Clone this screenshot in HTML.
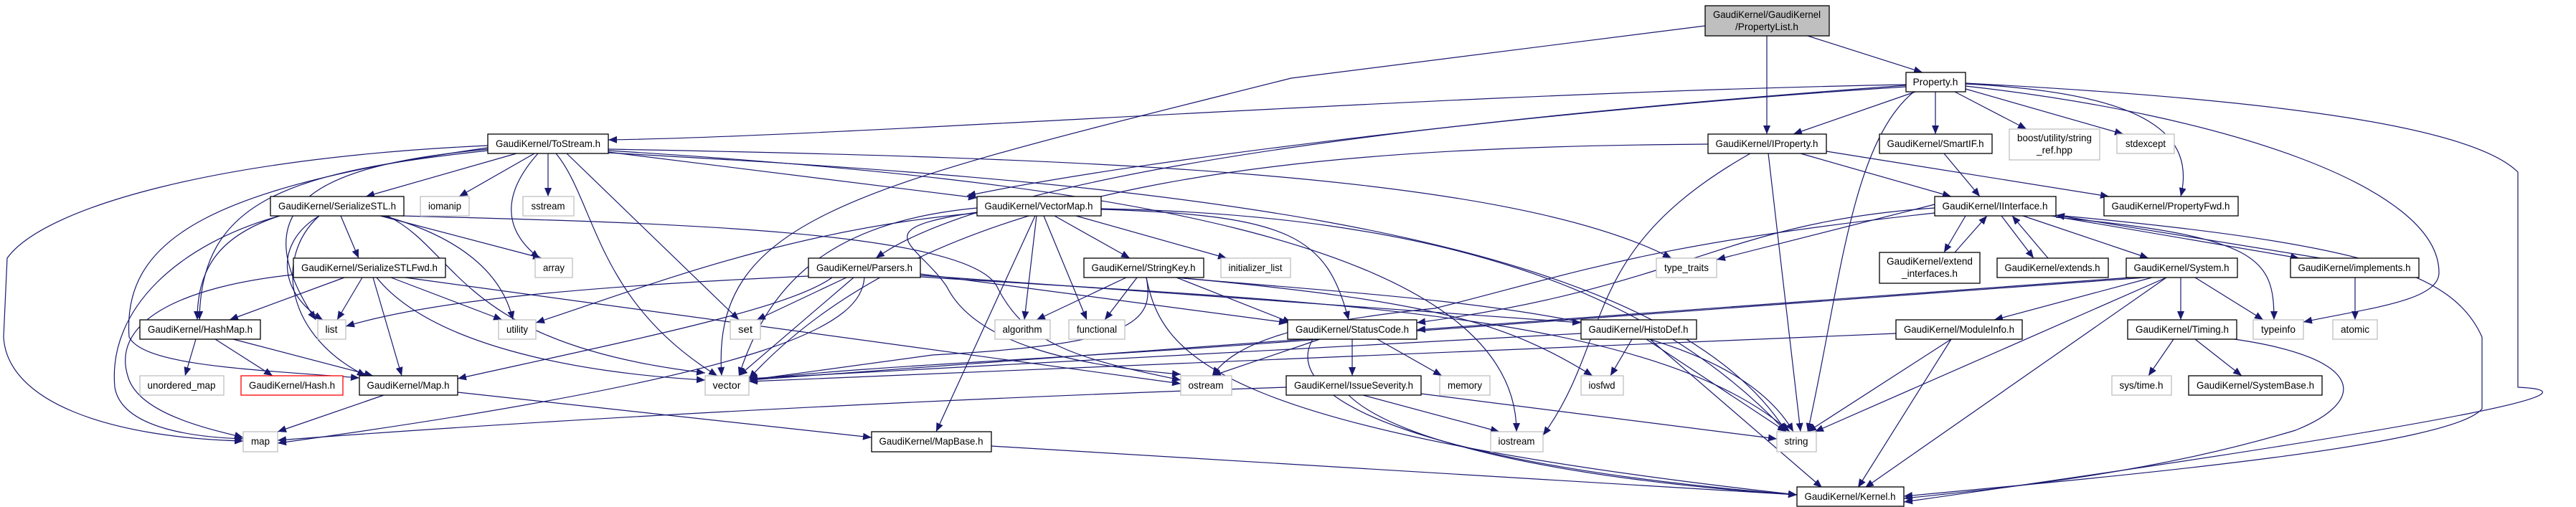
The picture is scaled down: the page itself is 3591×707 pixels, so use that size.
<!DOCTYPE html>
<html><head><meta charset="utf-8"><style>
html,body{margin:0;padding:0;background:#fff;}
svg{display:block;}
text{font-family:"Liberation Sans",sans-serif;font-size:14px;fill:#000;}
.n rect{fill:#fff;stroke:#000;stroke-width:1.3;}
.g rect{fill:#fff;stroke:#bfbfbf;stroke-width:1.3;}
.e path{fill:none;stroke:#191970;stroke-width:1.2;}
</style></head><body>
<svg width="3591" height="707" viewBox="0 0 3591 707" xmlns="http://www.w3.org/2000/svg">
<defs><marker id="a" markerUnits="userSpaceOnUse" markerWidth="13" markerHeight="10" refX="12" refY="5" orient="auto"><path d="M0,0 L12,5 L0,10 z" fill="#191970"/></marker></defs>
<g class="e" marker-end="url(#a)">
<path d="M2520 50 L2680 101"/>
<path d="M2463 50 L2463 187"/>
<path d="M2377 36 L1800 109 C1200 260 990 300 1006 524"/>
<path d="M2657 118 C2000 130 1200 190 848 195"/>
<path d="M2670 128 L2500 187"/>
<path d="M2698 128 L2698 187"/>
<path d="M2725 128 L2825 180"/>
<path d="M2740 124 L2960 187"/>
<path d="M2740 117 C3000 130 3060 190 3040 274"/>
<path d="M2668 128 C2580 200 2565 400 2520 602"/>
<path d="M2740 120 C3100 160 3400 260 3400 380 C3400 420 3300 430 3211 449"/>
<path d="M2740 116 C3200 140 3450 180 3510 240 L3510 540 C3620 545 3500 580 2654 700"/>
<path d="M2657 119 C2100 160 1400 230 1221 360"/>
<path d="M2657 121 C2200 150 1600 220 1348 273"/>
<path d="M720 214 L510 274"/>
<path d="M745 214 L640 274"/>
<path d="M764 214 L764 274"/>
<path d="M750 214 C700 270 700 320 752 360"/>
<path d="M848 212 L1362 276"/>
<path d="M680 210 C400 240 280 280 278 446"/>
<path d="M680 208 C450 230 330 280 440 446"/>
<path d="M680 203 C300 220 60 290 10 360 L5 470 C10 560 150 610 339 615"/>
<path d="M680 206 C300 260 170 330 180 470 C200 510 350 515 501 527"/>
<path d="M790 214 L1030 446"/>
<path d="M848 213 C1500 250 2300 300 2490 602"/>
<path d="M848 210 C1500 250 2114 330 2114 602"/>
<path d="M848 208 C1500 220 2100 240 2330 360"/>
<path d="M775 214 C830 280 830 420 1000 524"/>
<path d="M475 301 L500 360"/>
<path d="M530 301 L755 360"/>
<path d="M535 301 C640 330 700 380 715 446"/>
<path d="M445 301 C380 340 390 410 450 446"/>
<path d="M390 301 C300 330 275 380 275 446"/>
<path d="M445 301 C380 360 400 470 510 524"/>
<path d="M390 301 C250 340 150 430 160 540 C170 600 280 610 339 612"/>
<path d="M540 301 C640 350 640 480 983 520"/>
<path d="M560 301 C900 310 1350 320 1390 400 C1430 480 1500 500 1646 530"/>
<path d="M480 387 L320 446"/>
<path d="M505 387 L470 446"/>
<path d="M545 387 L700 446"/>
<path d="M520 387 L560 524"/>
<path d="M409 383 C250 400 150 450 180 530 C200 580 300 600 339 610"/>
<path d="M525 387 C600 480 800 520 983 530"/>
<path d="M565 387 L1646 535"/>
<path d="M273 473 L258 524"/>
<path d="M300 473 L380 524"/>
<path d="M325 473 L520 524"/>
<path d="M535 551 L387 602"/>
<path d="M638 547 L1215 610"/>
<path d="M1470 301 L1575 360"/>
<path d="M1500 301 L1710 360"/>
<path d="M1455 301 L1515 446"/>
<path d="M1445 301 L1428 446"/>
<path d="M1443 301 L1305 602"/>
<path d="M1362 290 C1150 310 1070 400 1030 524"/>
<path d="M1362 297 C1100 320 900 400 747 450"/>
<path d="M1362 296 C1200 320 1280 340 1320 400 C1360 480 1500 510 1646 522"/>
<path d="M1535 292 C1800 300 1850 330 1880 446"/>
<path d="M1535 291 C2000 300 2300 400 2490 602"/>
<path d="M1180 387 L1055 446"/>
<path d="M1190 387 L1030 524"/>
<path d="M1127 385 C800 400 600 420 482 455"/>
<path d="M1205 387 C1200 450 1100 520 387 618"/>
<path d="M1160 387 C1100 430 900 470 638 528"/>
<path d="M1283 382 L1795 450"/>
<path d="M1283 384 L2204 450"/>
<path d="M1283 386 C1800 420 2300 430 2495 602"/>
<path d="M1570 387 L1445 446"/>
<path d="M1585 387 L1540 446"/>
<path d="M1598 387 C1610 450 1580 480 1300 495 L1044 530"/>
<path d="M1640 387 L1800 450"/>
<path d="M1640 387 C2000 420 2400 430 2500 602"/>
<path d="M1598 387 C1620 500 1700 600 2505 690"/>
<path d="M1640 387 C2000 420 2100 450 2220 524"/>
<path d="M1840 473 L1690 524"/>
<path d="M1885 473 L1885 524"/>
<path d="M1920 473 L2010 524"/>
<path d="M1830 473 C1780 560 2000 650 2505 690"/>
<path d="M1840 473 C1500 500 1200 510 1044 530"/>
<path d="M1900 551 L2090 602"/>
<path d="M1981 549 L2477 612"/>
<path d="M1880 551 C1950 620 2200 670 2505 690"/>
<path d="M1793 540 C1200 560 700 590 387 614"/>
<path d="M2275 473 L2245 524"/>
<path d="M2295 473 L2490 602"/>
<path d="M2300 473 L2540 680"/>
<path d="M2204 465 L1044 528"/>
<path d="M1382 622 L2505 690"/>
<path d="M2510 214 L2720 274"/>
<path d="M2546 211 L2940 274"/>
<path d="M2465 214 L2510 602"/>
<path d="M2381 201 C1800 205 1300 250 1044 528"/>
<path d="M2440 214 C2200 350 2250 470 2151 607"/>
<path d="M2710 214 L2760 274"/>
<path d="M2697 285 L2393 362"/>
<path d="M2740 301 L2710 352"/>
<path d="M2725 352 L2770 301"/>
<path d="M2790 301 L2835 360"/>
<path d="M2855 360 L2805 301"/>
<path d="M2820 301 L2995 360"/>
<path d="M2860 301 L3205 360"/>
<path d="M3235 360 L2866 300"/>
<path d="M2866 303 C3150 330 3170 360 3170 446"/>
<path d="M2866 300 C3300 340 3420 380 3460 470 L3460 570 C3420 620 3000 660 2654 692"/>
<path d="M2697 297 C2300 340 2200 380 2000 430 C1800 450 1720 480 1690 524"/>
<path d="M2697 290 C2400 310 2350 400 1975 450"/>
<path d="M3283 387 L3283 446"/>
<path d="M3000 387 L2780 446"/>
<path d="M3040 387 L3040 446"/>
<path d="M3060 387 L3155 446"/>
<path d="M3020 387 L2530 602"/>
<path d="M3020 387 L2600 680"/>
<path d="M2990 387 L1044 530"/>
<path d="M2970 387 L1975 460"/>
<path d="M2720 473 L2520 602"/>
<path d="M2720 473 L2590 680"/>
<path d="M2643 465 L1044 532"/>
<path d="M3030 473 L2995 524"/>
<path d="M3060 473 L3125 524"/>
<path d="M3115 473 C3300 500 3300 560 3200 600 C3000 660 2800 680 2654 695"/>
</g>
<g>
<rect x="2377" y="8" width="173" height="42" fill="#bfbfbf" stroke="#000" stroke-width="1.3"/>
<text x="2463" y="25" text-anchor="middle" textLength="150" lengthAdjust="spacingAndGlyphs">GaudiKernel/GaudiKernel</text>
<text x="2463" y="42" text-anchor="middle" textLength="88" lengthAdjust="spacingAndGlyphs">/PropertyList.h</text>
</g>
<g class="n">
<rect x="2657" y="101" width="83" height="27"/><text x="2698" y="119" text-anchor="middle" textLength="63" lengthAdjust="spacingAndGlyphs">Property.h</text>
<rect x="680" y="187" width="168" height="27"/><text x="764" y="205" text-anchor="middle" textLength="146" lengthAdjust="spacingAndGlyphs">GaudiKernel/ToStream.h</text>
<rect x="2381" y="187" width="165" height="27"/><text x="2463" y="205" text-anchor="middle" textLength="143" lengthAdjust="spacingAndGlyphs">GaudiKernel/IProperty.h</text>
<rect x="2620" y="187" width="157" height="27"/><text x="2698" y="205" text-anchor="middle" textLength="135" lengthAdjust="spacingAndGlyphs">GaudiKernel/SmartIF.h</text>
<rect x="377" y="274" width="186" height="27"/><text x="470" y="292" text-anchor="middle" textLength="164" lengthAdjust="spacingAndGlyphs">GaudiKernel/SerializeSTL.h</text>
<rect x="1362" y="274" width="173" height="27"/><text x="1448" y="292" text-anchor="middle" textLength="151" lengthAdjust="spacingAndGlyphs">GaudiKernel/VectorMap.h</text>
<rect x="2697" y="274" width="169" height="27"/><text x="2781" y="292" text-anchor="middle" textLength="147" lengthAdjust="spacingAndGlyphs">GaudiKernel/IInterface.h</text>
<rect x="2933" y="274" width="187" height="27"/><text x="3026" y="292" text-anchor="middle" textLength="165" lengthAdjust="spacingAndGlyphs">GaudiKernel/PropertyFwd.h</text>
<rect x="409" y="360" width="212" height="27"/><text x="515" y="378" text-anchor="middle" textLength="190" lengthAdjust="spacingAndGlyphs">GaudiKernel/SerializeSTLFwd.h</text>
<rect x="1127" y="360" width="156" height="27"/><text x="1205" y="378" text-anchor="middle" textLength="134" lengthAdjust="spacingAndGlyphs">GaudiKernel/Parsers.h</text>
<rect x="1511" y="360" width="167" height="27"/><text x="1594" y="378" text-anchor="middle" textLength="145" lengthAdjust="spacingAndGlyphs">GaudiKernel/StringKey.h</text>
<rect x="2620" y="352" width="140" height="43"/><text x="2690" y="369" text-anchor="middle" textLength="120" lengthAdjust="spacingAndGlyphs">GaudiKernel/extend</text><text x="2690" y="386" text-anchor="middle" textLength="78" lengthAdjust="spacingAndGlyphs">_interfaces.h</text>
<rect x="2784" y="360" width="155" height="27"/><text x="2861" y="378" text-anchor="middle" textLength="133" lengthAdjust="spacingAndGlyphs">GaudiKernel/extends.h</text>
<rect x="2964" y="360" width="155" height="27"/><text x="3041" y="378" text-anchor="middle" textLength="133" lengthAdjust="spacingAndGlyphs">GaudiKernel/System.h</text>
<rect x="3193" y="360" width="179" height="27"/><text x="3282" y="378" text-anchor="middle" textLength="157" lengthAdjust="spacingAndGlyphs">GaudiKernel/implements.h</text>
<rect x="195" y="446" width="168" height="27"/><text x="279" y="464" text-anchor="middle" textLength="146" lengthAdjust="spacingAndGlyphs">GaudiKernel/HashMap.h</text>
<rect x="1795" y="446" width="180" height="27"/><text x="1885" y="464" text-anchor="middle" textLength="158" lengthAdjust="spacingAndGlyphs">GaudiKernel/StatusCode.h</text>
<rect x="2204" y="446" width="161" height="27"/><text x="2284" y="464" text-anchor="middle" textLength="139" lengthAdjust="spacingAndGlyphs">GaudiKernel/HistoDef.h</text>
<rect x="2643" y="446" width="176" height="27"/><text x="2731" y="464" text-anchor="middle" textLength="154" lengthAdjust="spacingAndGlyphs">GaudiKernel/ModuleInfo.h</text>
<rect x="2966" y="446" width="152" height="27"/><text x="3042" y="464" text-anchor="middle" textLength="130" lengthAdjust="spacingAndGlyphs">GaudiKernel/Timing.h</text>
<rect x="501" y="524" width="137" height="27"/><text x="569" y="542" text-anchor="middle" textLength="115" lengthAdjust="spacingAndGlyphs">GaudiKernel/Map.h</text>
<rect x="1793" y="524" width="188" height="27"/><text x="1887" y="542" text-anchor="middle" textLength="166" lengthAdjust="spacingAndGlyphs">GaudiKernel/IssueSeverity.h</text>
<rect x="3051" y="524" width="186" height="27"/><text x="3144" y="542" text-anchor="middle" textLength="164" lengthAdjust="spacingAndGlyphs">GaudiKernel/SystemBase.h</text>
<rect x="1215" y="602" width="167" height="28"/><text x="1298" y="620" text-anchor="middle" textLength="145" lengthAdjust="spacingAndGlyphs">GaudiKernel/MapBase.h</text>
<rect x="2505" y="679" width="149" height="27"/><text x="2579" y="697" text-anchor="middle" textLength="127" lengthAdjust="spacingAndGlyphs">GaudiKernel/Kernel.h</text>
</g>
<rect x="336" y="524" width="142" height="27" fill="#fff" stroke="#ff0000" stroke-width="1.3"/><text x="407" y="542" text-anchor="middle" textLength="120" lengthAdjust="spacingAndGlyphs">GaudiKernel/Hash.h</text>
<g class="g">
<rect x="2801" y="180" width="126" height="43"/><text x="2864" y="197" text-anchor="middle" textLength="104" lengthAdjust="spacingAndGlyphs">boost/utility/string</text><text x="2864" y="214" text-anchor="middle" textLength="50" lengthAdjust="spacingAndGlyphs">_ref.hpp</text>
<rect x="2951" y="187" width="80" height="27"/><text x="2991" y="205" text-anchor="middle" textLength="56" lengthAdjust="spacingAndGlyphs">stdexcept</text>
<rect x="586" y="274" width="68" height="27"/><text x="620" y="292" text-anchor="middle" textLength="46" lengthAdjust="spacingAndGlyphs">iomanip</text>
<rect x="729" y="274" width="71" height="27"/><text x="764" y="292" text-anchor="middle" textLength="47" lengthAdjust="spacingAndGlyphs">sstream</text>
<rect x="746" y="360" width="52" height="27"/><text x="772" y="378" text-anchor="middle" textLength="30" lengthAdjust="spacingAndGlyphs">array</text>
<rect x="1702" y="360" width="97" height="27"/><text x="1750" y="378" text-anchor="middle" textLength="75" lengthAdjust="spacingAndGlyphs">initializer_list</text>
<rect x="2309" y="360" width="84" height="27"/><text x="2351" y="378" text-anchor="middle" textLength="62" lengthAdjust="spacingAndGlyphs">type_traits</text>
<rect x="443" y="446" width="39" height="27"/><text x="462" y="464" text-anchor="middle" textLength="17" lengthAdjust="spacingAndGlyphs">list</text>
<rect x="695" y="446" width="52" height="27"/><text x="721" y="464" text-anchor="middle" textLength="30" lengthAdjust="spacingAndGlyphs">utility</text>
<rect x="1018" y="446" width="42" height="27"/><text x="1039" y="464" text-anchor="middle" textLength="20" lengthAdjust="spacingAndGlyphs">set</text>
<rect x="1387" y="446" width="77" height="27"/><text x="1425" y="464" text-anchor="middle" textLength="55" lengthAdjust="spacingAndGlyphs">algorithm</text>
<rect x="1490" y="446" width="78" height="27"/><text x="1529" y="464" text-anchor="middle" textLength="56" lengthAdjust="spacingAndGlyphs">functional</text>
<rect x="3141" y="446" width="70" height="27"/><text x="3176" y="464" text-anchor="middle" textLength="48" lengthAdjust="spacingAndGlyphs">typeinfo</text>
<rect x="3252" y="446" width="62" height="27"/><text x="3283" y="464" text-anchor="middle" textLength="40" lengthAdjust="spacingAndGlyphs">atomic</text>
<rect x="195" y="524" width="117" height="27"/><text x="253" y="542" text-anchor="middle" textLength="95" lengthAdjust="spacingAndGlyphs">unordered_map</text>
<rect x="983" y="524" width="61" height="27"/><text x="1013" y="542" text-anchor="middle" textLength="39" lengthAdjust="spacingAndGlyphs">vector</text>
<rect x="1646" y="524" width="71" height="27"/><text x="1681" y="542" text-anchor="middle" textLength="49" lengthAdjust="spacingAndGlyphs">ostream</text>
<rect x="2007" y="524" width="70" height="27"/><text x="2042" y="542" text-anchor="middle" textLength="48" lengthAdjust="spacingAndGlyphs">memory</text>
<rect x="2204" y="524" width="59" height="27"/><text x="2233" y="542" text-anchor="middle" textLength="37" lengthAdjust="spacingAndGlyphs">iosfwd</text>
<rect x="2944" y="524" width="83" height="27"/><text x="2985" y="542" text-anchor="middle" textLength="61" lengthAdjust="spacingAndGlyphs">sys/time.h</text>
<rect x="339" y="602" width="48" height="28"/><text x="363" y="620" text-anchor="middle" textLength="26" lengthAdjust="spacingAndGlyphs">map</text>
<rect x="2078" y="602" width="73" height="28"/><text x="2114" y="620" text-anchor="middle" textLength="51" lengthAdjust="spacingAndGlyphs">iostream</text>
<rect x="2477" y="602" width="55" height="28"/><text x="2504" y="620" text-anchor="middle" textLength="33" lengthAdjust="spacingAndGlyphs">string</text>
</g>
</svg>
</body></html>
